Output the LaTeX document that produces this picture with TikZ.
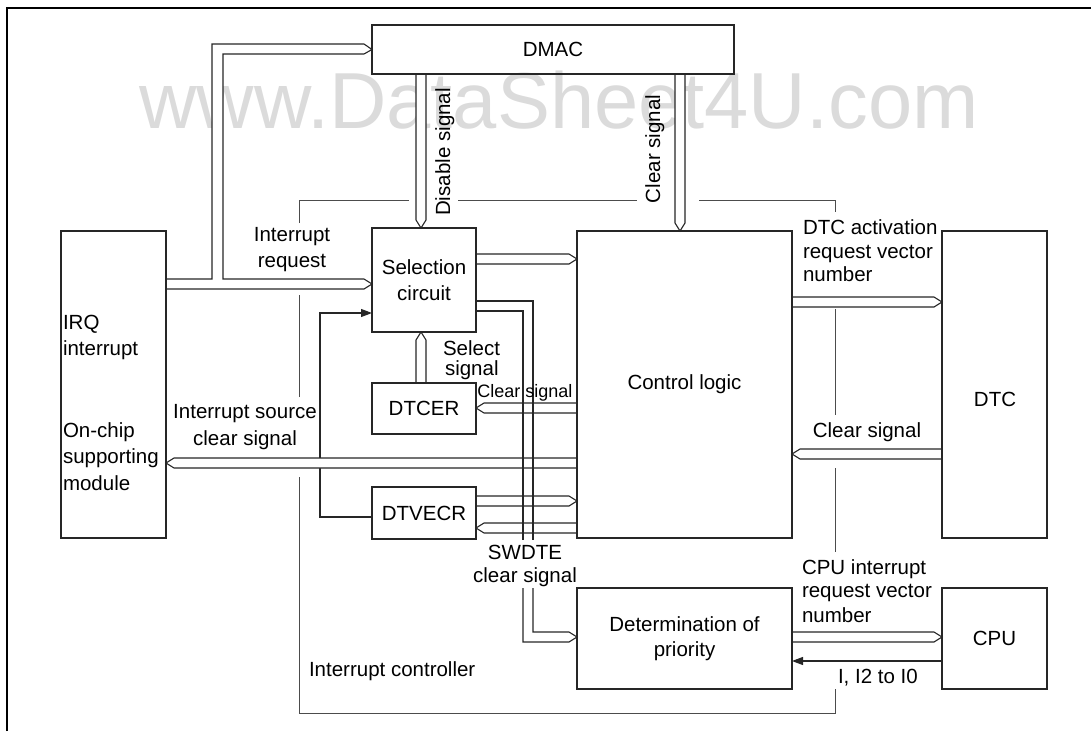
\documentclass[tikz,border=0pt]{standalone}
\usepackage{fontspec}
\setmainfont{Liberation Sans}
\usetikzlibrary{arrows.meta,calc}

\tikzset{
  box/.style={draw=black!85, line width=1.4pt, inner sep=0pt, outer sep=0pt, align=center},
  busline/.style={draw=black!85, line width=1.1pt, line join=miter},
  sig/.style={draw=black!85, line width=1.1pt, -{Triangle[length=11pt,width=8pt]}},
  bound/.style={draw=black!70, line width=0.9pt},
  frameline/.style={draw=black, line width=2pt},
  lbl/.style={inner sep=0pt, outer sep=0pt},
  small/.style={font=\fontsize{18}{22}\selectfont},
  wm/.style={inner sep=0pt, text=black!14, font=\fontsize{79.5}{90}\selectfont},
}

% hollow bus arrow from #1 to the tip #2
\newcommand\busto[2]{%
  \path[fill=white] let \p1=(#1), \p2=(#2), \n1={veclen(\x2-\x1,\y2-\y1)},
      \n2={(\x2-\x1)/\n1}, \n3={(\y2-\y1)/\n1} in
    ({\x1-5*(\n3)},{\y1+5*(\n2)}) -- ({\x2-8*(\n2)-5*(\n3)},{\y2-8*(\n3)+5*(\n2)}) --
    (\x2,\y2) -- ({\x2-8*(\n2)+5*(\n3)},{\y2-8*(\n3)-5*(\n2)}) -- ({\x1+5*(\n3)},{\y1-5*(\n2)}) -- cycle;
  \draw[busline] let \p1=(#1), \p2=(#2), \n1={veclen(\x2-\x1,\y2-\y1)},
      \n2={(\x2-\x1)/\n1}, \n3={(\y2-\y1)/\n1} in
    ({\x1-5*(\n3)},{\y1+5*(\n2)}) -- ({\x2-8*(\n2)-5*(\n3)},{\y2-8*(\n3)+5*(\n2)}) --
    (\x2,\y2) -- ({\x2-8*(\n2)+5*(\n3)},{\y2-8*(\n3)-5*(\n2)}) -- ({\x1+5*(\n3)},{\y1-5*(\n2)});
}

\begin{document}
\begin{tikzpicture}[x=1pt,y=-1pt, font=\fontsize{20.5}{25.5}\selectfont]
\useasboundingbox (0,0) rectangle (1091,731);

% watermark
\node[wm, anchor=base west] (wm) at (139,128) {www.DataSheet4U.com};

% frame
\draw[frameline] (7,731) -- (7,8) -- (1091,8);

% box geometry (drawn later), defined here as nodes
\path
  node[box, minimum width=362pt, minimum height=49pt] (dmac) at (553,49.5) {}
  node[box, minimum width=105pt, minimum height=307pt] (irq) at (113.5,384.5) {}
  node[box, minimum width=104pt, minimum height=104pt] (sel) at (424,280) {}
  node[box, minimum width=104pt, minimum height=51pt] (dtcer) at (424,408.5) {}
  node[box, minimum width=104pt, minimum height=52pt] (dtvecr) at (424,513) {}
  node[box, minimum width=215pt, minimum height=307pt] (ctl) at (684.5,384.5) {}
  node[box, minimum width=215pt, minimum height=101pt] (det) at (684.5,638.5) {}
  node[box, minimum width=105pt, minimum height=307pt] (dtc) at (994.5,384.5) {}
  node[box, minimum width=105pt, minimum height=101pt] (cpu) at (994.5,638.5) {};

% interrupt controller boundary
\draw[bound] (299,223) -- (299,200) -- (409,200);
\draw[bound] (458,200) -- (637,200);
\draw[bound] (699,200) -- (835,200) -- (835,212);
\draw[bound] (835,309) -- (835,415);
\draw[bound] (835,468) -- (835,552);
\draw[bound] (835,689) -- (835,713) -- (299,713) -- (299,477);
\draw[bound] (299,397) -- (299,295);

% solid signal arrows
\draw[sig] ([yshift=-4pt]dtvecr.west) -- ++(-52,0) |- ([yshift=-33pt]sel.west);
\draw[sig] ([yshift=-22.5pt]cpu.west) -- ([yshift=-22.5pt]det.east);

% row / column references for buses
\coordinate (y259) at (0,259);
\coordinate (y302) at (0,302);
\coordinate (y408) at (0,408);
\coordinate (y454) at (0,454);
\coordinate (y463) at (0,463);
\coordinate (y501) at (0,501);
\coordinate (y528) at (0,528);
\coordinate (y637) at (0,637);
\coordinate (x421) at (421,0);
\coordinate (x680) at (680,0);

% straight buses
\busto{x421 |- dmac.south}{x421 |- sel.north}
\busto{x680 |- dmac.south}{x680 |- ctl.north}
\busto{x421 |- dtcer.north}{x421 |- sel.south}
\busto{sel.east |- y259}{ctl.west |- y259}
\busto{ctl.west |- y408}{dtcer.east |- y408}
\busto{ctl.west |- y463}{irq.east |- y463}
\busto{dtvecr.east |- y501}{ctl.west |- y501}
\busto{ctl.west |- y528}{dtvecr.east |- y528}
\busto{ctl.east |- y302}{dtc.west |- y302}
\busto{dtc.west |- y454}{ctl.east |- y454}
\busto{det.east |- y637}{cpu.west |- y637}

% SWDTE clear signal bus: selection circuit -> determination of priority
\draw[busline] ([yshift=-21pt]sel.east) -- (533,301) -- (533,540);
\draw[busline] ([yshift=-31pt]sel.east) -- (523,311) -- (523,540);
\draw[busline] (523,588) -- (523,642) -- (569,642) -- ([yshift=1.5pt]det.west) -- (569,632) -- (533,632) -- (533,588);

% IRQ bus to DMAC and selection circuit
\fill[white] (212,44) rectangle (223,279);
\fill[white] (223,44) rectangle (364,54);
\draw[busline] ([yshift=105.5pt]irq.east) -- (212,279) -- (212,44) -- (364,44) -- (dmac.west)
  -- (364,54) -- (223,54) -- (223,279) -- (364,279) -- ([yshift=-4pt]sel.west)
  -- (364,289) -- ([yshift=95.5pt]irq.east);

% boxes with their texts
\node[box, minimum width=362pt, minimum height=49pt] (dmacB) at (dmac) {DMAC};
\node[box, minimum width=105pt, minimum height=307pt] (irqB) at (irq) {};
\node[box, minimum width=104pt, minimum height=104pt, font=\fontsize{20.5}{26}\selectfont] (selB) at (sel) {Selection\\circuit};
\node[box, minimum width=104pt, minimum height=51pt] (dtcerB) at (dtcer) {DTCER};
\node[box, minimum width=104pt, minimum height=52pt] (dtvecrB) at (dtvecr) {DTVECR};
\node[box, minimum width=215pt, minimum height=307pt] (ctlB) at (ctl) {Control logic};
\node[box, minimum width=215pt, minimum height=101pt] (detB) at (det) {Determination of\\priority};
\node[box, minimum width=105pt, minimum height=307pt] (dtcB) at (dtc) {};
\node[box, minimum width=105pt, minimum height=101pt] (cpuB) at (cpu) {CPU};
\node[lbl, anchor=base] (tdtc) at (995,406) {DTC};

% IRQ box texts
\node[lbl, anchor=base west] (tirq1) at (63,329) {IRQ};
\node[lbl, anchor=base west] (tirq2) at (63,355) {interrupt};
\node[lbl, anchor=base west] (tirq3) at (63,437) {On-chip};
\node[lbl, anchor=base west] (tirq4) at (63,463) {supporting};
\node[lbl, anchor=base west] (tirq5) at (63,490) {module};

% connector labels
\node[lbl, anchor=base] (tir1) at (292,241) {Interrupt};
\node[lbl, anchor=base] (tir2) at (292,267) {request};
\node[lbl, anchor=base, rotate=90] (tdis) at (450,152) {Disable signal};
\node[lbl, anchor=base, rotate=90] (tclr) at (660,149) {Clear signal};
\node[lbl, anchor=base west] (tss1) at (443,355) {Select};
\node[lbl, anchor=base west] (tss2) at (445,375) {signal};
\node[lbl, small, anchor=base] (tcs) at (525,397) {Clear signal};
\node[lbl, anchor=base] (tisc1) at (245,418) {Interrupt source};
\node[lbl, anchor=base] (tisc2) at (245,445) {clear signal};
\node[lbl, anchor=base] (tsw1) at (525,559) {SWDTE};
\node[lbl, anchor=base] (tsw2) at (525,582) {clear signal};
\node[lbl, anchor=base west] (tda1) at (803,234) {DTC activation};
\node[lbl, anchor=base west] (tda2) at (803,258) {request vector};
\node[lbl, anchor=base west] (tda3) at (803,281) {number};
\node[lbl, anchor=base] (tcd) at (867,437) {Clear signal};
\node[lbl, anchor=base west] (tci1) at (802,574) {CPU interrupt};
\node[lbl, anchor=base west] (tci2) at (802,597) {request vector};
\node[lbl, anchor=base west] (tci3) at (802,622) {number};
\node[lbl, anchor=base west] (tii) at (838,683) {I, I2 to I0};
\node[lbl, anchor=base west] (tic) at (309,676) {Interrupt controller};
\end{tikzpicture}
\end{document}
